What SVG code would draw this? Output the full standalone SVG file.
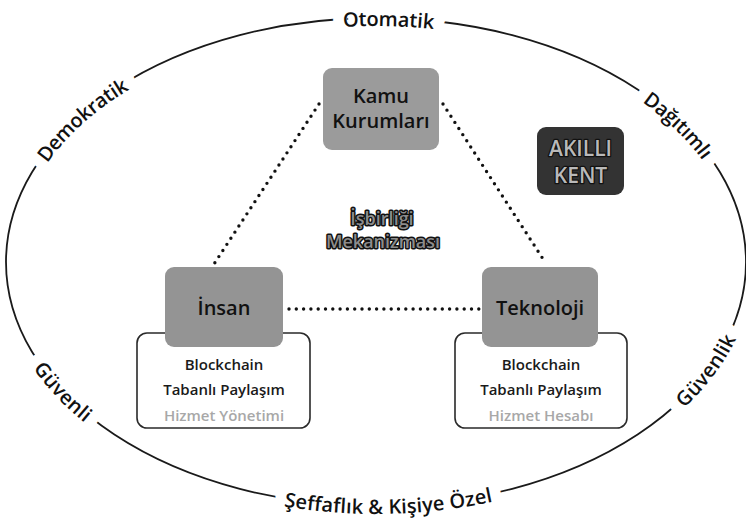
<svg xmlns="http://www.w3.org/2000/svg" width="746" height="526" viewBox="0 0 746 526">
  <defs>
    <style>
      text { font-family: "Open Sans", "Noto Sans", "DejaVu Sans", sans-serif; font-weight: 600; }
      .ring { fill: none; stroke: #1a1a1a; stroke-width: 1.8; }
      .lbl { font-size: 20px; fill: #111; dominant-baseline: central; }
      .halo { font-size: 20px; fill: #fff; stroke: #fff; stroke-width: 22; stroke-linejoin: round; dominant-baseline: central; }
      .dots { fill: none; stroke: #111; stroke-width: 3.4; stroke-linecap: round; stroke-dasharray: 0 7.3; }
      .head { fill: #949494; }
      .card { fill: #fff; stroke: #2a2a2a; stroke-width: 1.6; }
      .title { font-size: 20px; fill: #111; text-anchor: middle; }
      .line { font-size: 15px; fill: #1a1a1a; text-anchor: middle; }
      .soft { font-size: 15px; fill: #a8a8a8; text-anchor: middle; }
      .outlined { paint-order: stroke; stroke-linejoin: round; text-anchor: middle; }
    </style>
    <!-- arc segments of the outer ellipse used to lay the labels on -->
    <path id="arc-top" d="M292.8,24.3 A370,244 0 0 1 484.2,28.7"/>
    <path id="arc-tl" d="M23.1,188.6 A370,244 0 0 1 155.9,65.8"/>
    <path id="arc-tr" d="M606.3,71 A370,244 0 0 1 732.5,196.8"/>
    <path id="arc-bl" d="M15.5,316.9 A370,244 0 0 0 133.2,446.1"/>
    <path id="arc-br" d="M644.4,430 A370,244 0 0 0 742.8,293.8"/>
    <path id="arc-bottom" d="M237.4,488.2 A370,244 0 0 0 538.2,481.3"/>
  </defs>

  <rect width="746" height="526" fill="#fff"/>

  <!-- outer ring; a white halo layer opens the gaps under each label -->
  <g id="ring">
    <ellipse class="ring" cx="376" cy="262" rx="370" ry="244"/>
    <g class="halos">
      <text class="halo"><textPath href="#arc-top" startOffset="50%" text-anchor="middle">Otomatik</textPath></text>
      <text class="halo"><textPath href="#arc-tl" startOffset="50%" text-anchor="middle">Demokratik</textPath></text>
      <text class="halo"><textPath href="#arc-tr" startOffset="50%" text-anchor="middle">Dağıtımlı</textPath></text>
      <text class="halo"><textPath href="#arc-bl" startOffset="50%" text-anchor="middle">Güvenli</textPath></text>
      <text class="halo"><textPath href="#arc-br" startOffset="50%" text-anchor="middle">Güvenlik</textPath></text>
      <text class="halo"><textPath href="#arc-bottom" startOffset="50%" text-anchor="middle">Şeffaflık &amp; Kişiye Özel</textPath></text>
    </g>
    <text class="lbl"><textPath href="#arc-top" startOffset="50%" text-anchor="middle">Otomatik</textPath></text>
    <text class="lbl"><textPath href="#arc-tl" startOffset="50%" text-anchor="middle">Demokratik</textPath></text>
    <text class="lbl"><textPath href="#arc-tr" startOffset="50%" text-anchor="middle">Dağıtımlı</textPath></text>
    <text class="lbl"><textPath href="#arc-bl" startOffset="50%" text-anchor="middle">Güvenli</textPath></text>
    <text class="lbl"><textPath href="#arc-br" startOffset="50%" text-anchor="middle">Güvenlik</textPath></text>
    <text class="lbl"><textPath href="#arc-bottom" startOffset="50%" text-anchor="middle">Şeffaflık &amp; Kişiye Özel</textPath></text>
  </g>

  <!-- dotted links between the three actors -->
  <g id="connectors">
    <line class="dots" x1="319" y1="104" x2="214" y2="264"/>
    <line class="dots" x1="443" y1="104" x2="545" y2="262"/>
    <line class="dots" x1="289" y1="309" x2="479" y2="309"/>
  </g>

  <g id="kamu">
    <rect x="323" y="68" width="116" height="82" rx="9" fill="#9b9b9b"/>
    <text class="title" x="381" y="103" font-size="19">Kamu</text>
    <text class="title" x="381" y="128" font-size="19">Kurumları</text>
  </g>

  <g id="akilli-kent">
    <rect x="537" y="127" width="87" height="68" rx="9" fill="#333"/>
    <text class="outlined" x="580.5" y="156" font-size="21" font-weight="700" fill="#b9b9b9" stroke="#111" stroke-width="2.5">AKILLI</text>
    <text class="outlined" x="580.5" y="183" font-size="21" font-weight="700" fill="#b9b9b9" stroke="#111" stroke-width="2.5">KENT</text>
  </g>

  <g id="isbirligi">
    <text class="outlined" x="382" y="225" font-size="18" font-weight="700" fill="#8c8c8c" stroke="#111" stroke-width="3">İşbirliği</text>
    <text class="outlined" x="383" y="248" font-size="18" font-weight="700" fill="#8c8c8c" stroke="#111" stroke-width="3">Mekanizması</text>
  </g>

  <g id="insan">
    <rect class="card" x="137" y="333" width="173" height="95" rx="10"/>
    <rect class="head" x="165" y="267" width="118" height="80" rx="9"/>
    <text class="title" x="224" y="315" font-size="21">İnsan</text>
    <text class="line" x="224" y="370">Blockchain</text>
    <text class="line" x="224" y="395">Tabanlı Paylaşım</text>
    <text class="soft" x="224" y="421">Hizmet Yönetimi</text>
  </g>

  <g id="teknoloji">
    <rect class="card" x="455" y="333" width="172" height="95" rx="10"/>
    <rect class="head" x="482" y="267" width="116" height="80" rx="9"/>
    <text class="title" x="540" y="315" font-size="21">Teknoloji</text>
    <text class="line" x="541" y="370">Blockchain</text>
    <text class="line" x="541" y="395">Tabanlı Paylaşım</text>
    <text class="soft" x="541" y="421">Hizmet Hesabı</text>
  </g>
</svg>
